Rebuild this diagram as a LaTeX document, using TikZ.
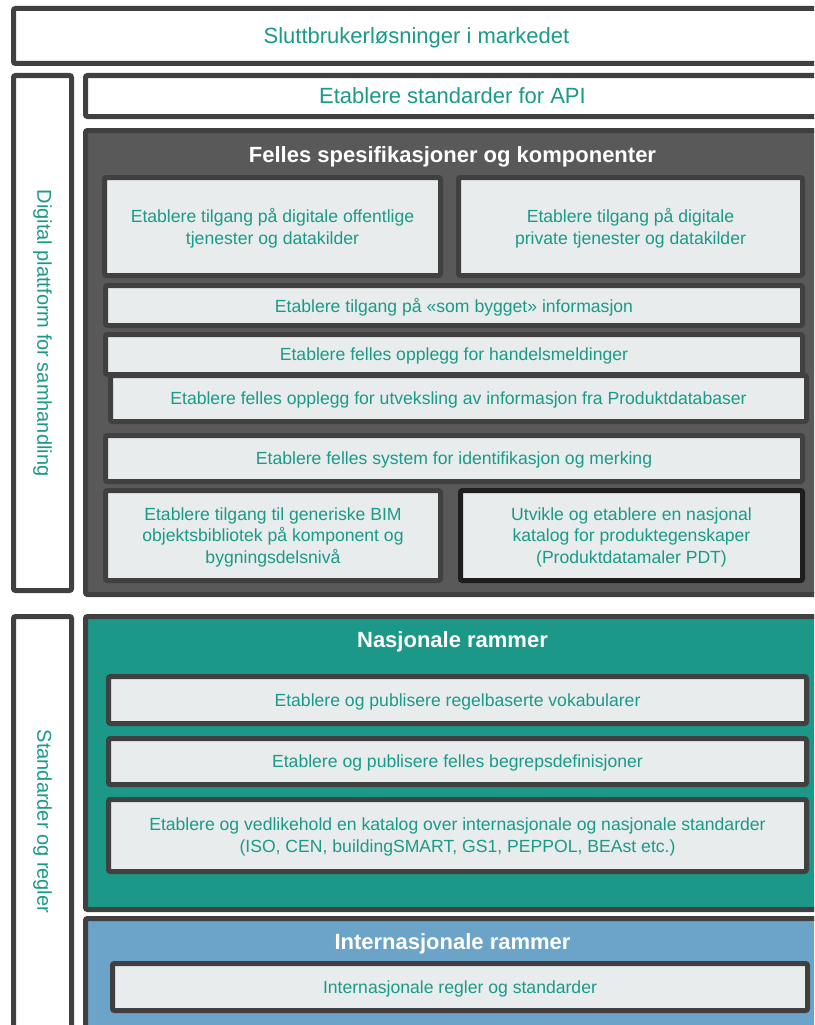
\documentclass[tikz,border=0pt]{standalone}
\usepackage{fontspec}
\setmainfont{Liberation Sans}
\usepackage{tikz}
\usetikzlibrary{positioning}

\definecolor{linegray}{RGB}{64,64,64}
\definecolor{darkline}{RGB}{30,30,30}
\definecolor{panelgray}{RGB}{89,89,89}
\definecolor{itemfill}{RGB}{232,236,236}
\definecolor{tealtext}{RGB}{26,154,136}
\definecolor{tealfill}{RGB}{27,152,135}
\definecolor{bluefill}{RGB}{107,164,200}

\begin{document}
\begin{tikzpicture}[
            x=1pt, y=-1pt,
            frame/.style={draw=linegray, line width=5pt, rounded corners=2pt, inner sep=0pt},
            whitebox/.style={frame, fill=white, text=tealtext, text depth=0pt, font=\fontsize{22}{26}\selectfont},
            sidebox/.style={frame, fill=white},
            sidetext/.style={text=tealtext, font=\fontsize{20}{24}\selectfont, rotate=-90},
            panel/.style={frame, minimum width=734pt},
            item/.style={frame, fill=itemfill, text=tealtext, text depth=0pt, align=center, font=\fontsize{17.6}{21.8}\selectfont},
            heading/.style={text=white, text depth=0pt, font=\bfseries\fontsize{22}{26}\selectfont},
        ]
            \useasboundingbox (0,0) rectangle (814,1025);
            \clip (0,0) rectangle (814,1025);

            % --- Toppen: sluttbrukere ---
            \node[whitebox, minimum width=806pt, minimum height=55pt] (marked) at (416.5,36) {Sluttbrukerløsninger i markedet};

            % --- Digital plattform ---
            \node[sidebox, minimum width=58pt, minimum height=515pt] (plattform) at (42.5,333) {};
            \node[sidetext] (plattformtxt) at (plattform.center) {Digital plattform for samhandling};
            \node[whitebox, minimum width=734pt, minimum height=41pt] (api) at (452.5,96) {Etablere standarder for API};

            \node[panel, fill=panelgray, minimum height=464pt] (felles) at (452.5,362.5) {};
            \node[heading] (fellestitle) at (452.5,155) {Felles spesifikasjoner og komponenter};

            \node[item, minimum width=336pt, minimum height=98pt] (offentlig) at (272.5,226.5) {Etablere tilgang på digitale offentlige\\tjenester og datakilder};
            \node[item, minimum width=344pt, minimum height=98pt] (privat) at (630.5,226.5) {Etablere tilgang på digitale\\private tjenester og datakilder};
            \node[item, minimum width=697pt, minimum height=40pt] (bygget) at (454,305.5) {Etablere tilgang på «som bygget» informasjon};
            \node[item, minimum width=697pt, minimum height=40pt] (handel) at (454,354.5) {Etablere felles opplegg for handelsmeldinger};
            \node[item, minimum width=696pt, minimum height=46pt] (produktdb) at (458.5,398.5) {Etablere felles opplegg for utveksling av informasjon fra Produktdatabaser};
            \node[item, minimum width=697pt, minimum height=46pt] (merking) at (454,458.5) {Etablere felles system for identifikasjon og merking};
            \node[item, minimum width=335pt, minimum height=90pt] (bim) at (273,535.5) {Etablere tilgang til generiske BIM\\objektsbibliotek på komponent og\\bygningsdelsnivå};
            \node[item, draw=darkline, minimum width=342pt, minimum height=90pt] (pdt) at (631.5,535.5) {Utvikle og etablere en nasjonal\\katalog for produktegenskaper\\(Produktdatamaler PDT)};

            % --- Standarder og regler ---
            \node[sidebox, minimum width=58pt, minimum height=416pt] (regler) at (42.5,824.5) {};
            \node[sidetext] (reglertxt) at (42.5,821.5) {Standarder og regler};

            \node[panel, fill=tealfill, minimum height=293pt] (nasjonal) at (452.5,763) {};
            \node[heading] (nasjonaltitle) at (452.5,640) {Nasjonale rammer};
            \node[item, minimum width=698pt, minimum height=47pt] (vokabular) at (457.5,700) {Etablere og publisere regelbaserte vokabularer};
            \node[item, minimum width=698pt, minimum height=46pt] (begrep) at (457.5,761.5) {Etablere og publisere felles begrepsdefinisjoner};
            \node[item, minimum width=698pt, minimum height=72pt] (katalog) at (457.5,835.5) {Etablere og vedlikehold en katalog over internasjonale og nasjonale standarder\\(ISO, CEN, buildingSMART, GS1, PEPPOL, BEAst etc.)};

            \node[panel, fill=bluefill, minimum height=119pt] (internasjonal) at (452.5,978) {};
            \node[heading] (internasjonaltitle) at (452.5,942) {Internasjonale rammer};
            \node[item, minimum width=695pt, minimum height=47pt] (intregler) at (460,987) {Internasjonale regler og standarder};
        \end{tikzpicture}
\end{document}
